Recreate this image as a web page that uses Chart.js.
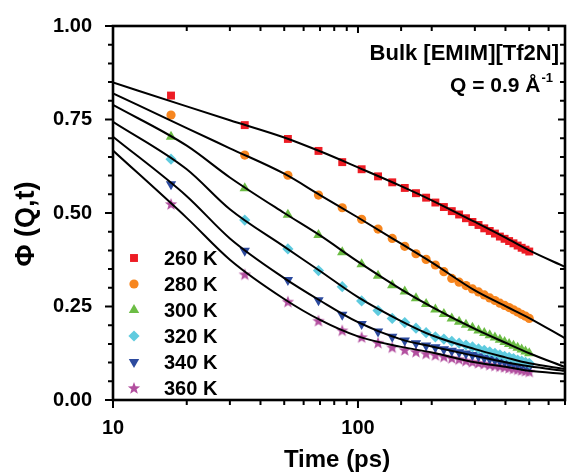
<html>
<head>
    <meta charset="utf-8">
    <title>Bulk [EMIM][Tf2N]</title>
    <script src="https://cdn.jsdelivr.net/npm/chart.js@4.4.1/dist/chart.umd.min.js"></script>
    <style>
        body { margin: 0; background: #fff; }
        #wrap { width: 572px; height: 474px; }
    </style>
</head>
<body>
    <div id="wrap">
        <canvas id="myChart" width="572" height="474"></canvas>
    </div>
    <script>
        // measured time points (ps)
        const times = [17.25, 34.5, 51.75, 69, 86.25, 103.5, 120.75, 138, 155.25, 172.5, 189.75, 207, 224.25, 241.5,
            258.75, 276, 293.25, 310.5, 327.75, 345, 362.25, 379.5, 396.75, 414, 431.25, 448.5, 465.75, 483, 500.25];

        const phi260 = [0.814, 0.735, 0.698, 0.666, 0.636, 0.617, 0.598, 0.582, 0.567, 0.553, 0.541, 0.528, 0.516, 0.505,
            0.496, 0.486, 0.476, 0.468, 0.459, 0.452, 0.445, 0.437, 0.431, 0.425, 0.419, 0.413, 0.407, 0.402, 0.397];
        const phi280 = [0.762, 0.655, 0.601, 0.548, 0.514, 0.483, 0.457, 0.432, 0.411, 0.391, 0.376, 0.361, 0.343, 0.325,
            0.315, 0.306, 0.297, 0.289, 0.281, 0.273, 0.266, 0.259, 0.253, 0.247, 0.241, 0.235, 0.229, 0.224, 0.218];
        const phi300 = [0.704, 0.566, 0.495, 0.441, 0.395, 0.363, 0.332, 0.307, 0.290, 0.272, 0.257, 0.242, 0.230, 0.218,
            0.209, 0.201, 0.193, 0.186, 0.179, 0.173, 0.167, 0.161, 0.155, 0.150, 0.145, 0.140, 0.135, 0.130, 0.125];
        const phi320 = [0.644, 0.481, 0.404, 0.346, 0.303, 0.265, 0.239, 0.218, 0.207, 0.192, 0.180, 0.169, 0.163, 0.157,
            0.152, 0.147, 0.142, 0.137, 0.133, 0.129, 0.125, 0.121, 0.117, 0.114, 0.111, 0.107, 0.104, 0.101, 0.098];
        const phi340 = [0.577, 0.399, 0.321, 0.267, 0.228, 0.203, 0.183, 0.169, 0.159, 0.152, 0.146, 0.141, 0.136, 0.132,
            0.128, 0.124, 0.120, 0.117, 0.113, 0.110, 0.107, 0.104, 0.102, 0.099, 0.097, 0.095, 0.093, 0.091, 0.089];
        const phi360 = [0.524, 0.336, 0.263, 0.212, 0.186, 0.168, 0.153, 0.141, 0.134, 0.129, 0.124, 0.120, 0.116, 0.112,
            0.109, 0.105, 0.102, 0.099, 0.097, 0.094, 0.092, 0.090, 0.088, 0.086, 0.084, 0.082, 0.080, 0.078, 0.076];

        // fit curves
        const fitTimes = [10, 20, 30, 50, 70, 100, 150, 200, 300, 400, 500, 700];
        const fit260 = [0.849, 0.785, 0.748, 0.702, 0.665, 0.622, 0.572, 0.534, 0.476, 0.434, 0.400, 0.356];
        const fit280 = [0.820, 0.727, 0.673, 0.605, 0.548, 0.488, 0.418, 0.368, 0.293, 0.251, 0.219, 0.165];
        const fit300 = [0.789, 0.680, 0.595, 0.500, 0.440, 0.370, 0.296, 0.249, 0.190, 0.153, 0.125, 0.088];
        const fit320 = [0.744, 0.617, 0.510, 0.410, 0.345, 0.275, 0.211, 0.173, 0.136, 0.114, 0.098, 0.083];
        const fit340 = [0.704, 0.545, 0.432, 0.326, 0.266, 0.208, 0.162, 0.143, 0.118, 0.101, 0.090, 0.078];
        const fit360 = [0.667, 0.487, 0.375, 0.270, 0.214, 0.170, 0.142, 0.127, 0.101, 0.089, 0.078, 0.070];

        const labels = ['260 K', '280 K', '300 K', '320 K', '340 K', '360 K'];
        const yTicks = ['0.00', '0.25', '0.50', '0.75', '1.00'];
        const xTicks = ['10', '100'];

        const COLORS = ['#ed1c24', '#f7861f', '#6cbd45', '#5fcbdf', '#2c4a9e', '#b24f9f'];

        Chart.defaults.font.family = "'Liberation Sans', Arial, sans-serif";
        Chart.defaults.font.weight = 'bold';
        Chart.defaults.color = '#000';

        function makeStar(color) {
            const c = document.createElement('canvas');
            c.width = 14; c.height = 14;
            const g = c.getContext('2d');
            g.fillStyle = color;
            g.beginPath();
            for (let i = 0; i < 10; i++) {
                const r = i % 2 === 0 ? 6.5 : 2.7;
                const a = -Math.PI / 2 + i * Math.PI / 5;
                const px = 7 + r * Math.cos(a), py = 7.5 + r * Math.sin(a);
                if (i === 0) g.moveTo(px, py); else g.lineTo(px, py);
            }
            g.closePath();
            g.fill();
            return c;
        }

        const markers = [
            { pointStyle: 'rect', radius: 5.6, rotation: 0 },
            { pointStyle: 'circle', radius: 4.6, rotation: 0 },
            { pointStyle: 'triangle', radius: 6, rotation: 0 },
            { pointStyle: 'rectRot', radius: 5.6, rotation: 0 },
            { pointStyle: 'triangle', radius: 6, rotation: 180 },
            { pointStyle: makeStar(COLORS[5]), radius: 7, rotation: 0 }
        ];

        const series = [phi260, phi280, phi300, phi320, phi340, phi360];
        const fits = [fit260, fit280, fit300, fit320, fit340, fit360];

        const datasets = [];
        fits.forEach((f, i) => {
            datasets.push({
                label: 'fit ' + labels[i],
                data: fitTimes.map((t, k) => ({ x: t, y: f[k] })),
                showLine: true,
                borderColor: '#000',
                borderWidth: 2,
                pointRadius: 0,
                cubicInterpolationMode: 'monotone',
                order: 0
            });
        });
        series.forEach((s, i) => {
            datasets.push({
                label: labels[i],
                data: times.map((t, k) => ({ x: t, y: s[k] })),
                showLine: false,
                backgroundColor: COLORS[i],
                borderColor: COLORS[i],
                borderWidth: 0,
                pointStyle: markers[i].pointStyle,
                pointRadius: markers[i].radius,
                pointRotation: markers[i].rotation,
                order: 1
            });
        });

        const FONT = "'Liberation Sans', Arial, sans-serif";

        const decor = {
            id: 'decor',
            afterDraw(chart) {
                const ctx = chart.ctx;
                const a = chart.chartArea;
                const xs = chart.scales.x, ys = chart.scales.y;
                ctx.save();
                ctx.strokeStyle = '#000';
                ctx.lineWidth = 2;
                ctx.lineCap = 'butt';
                ctx.beginPath();
                xs.ticks.forEach(t => {
                    const px = xs.getPixelForValue(t.value);
                    const major = xTicks.includes(String(t.value));
                    ctx.moveTo(px, a.bottom); ctx.lineTo(px, a.bottom + (major ? 8 : 5));
                    ctx.moveTo(px, a.top); ctx.lineTo(px, a.top + (major ? 7 : 5));
                });
                ys.ticks.forEach(t => {
                    const py = ys.getPixelForValue(t.value);
                    const major = yTicks.includes(t.value.toFixed(2));
                    ctx.moveTo(a.left, py); ctx.lineTo(a.left - (major ? 8 : 5), py);
                    ctx.moveTo(a.right, py); ctx.lineTo(a.right - (major ? 7 : 5), py);
                });
                ctx.stroke();
                ctx.lineWidth = 2.6;
                ctx.strokeRect(a.left, a.top, a.right - a.left, a.bottom - a.top);

                // legend
                ctx.font = 'bold 20px ' + FONT;
                ctx.textBaseline = 'middle';
                ctx.textAlign = 'left';
                labels.forEach((lab, i) => {
                    const y = 258 + i * 26;
                    ctx.fillStyle = COLORS[i];
                    Chart.helpers.drawPoint(ctx, {
                        pointStyle: markers[i].pointStyle,
                        radius: markers[i].radius,
                        rotation: markers[i].rotation,
                        borderWidth: 0
                    }, 134, y);
                    ctx.fillStyle = '#000';
                    ctx.fillText(lab, 164, y + 1);
                });

                // annotations
                ctx.textBaseline = 'alphabetic';
                ctx.textAlign = 'right';
                ctx.font = 'bold 22px ' + FONT;
                ctx.fillText('Bulk [EMIM][Tf2N]', 559, 60);
                ctx.font = 'bold 13px ' + FONT;
                const sup = '-1';
                const sw = ctx.measureText(sup).width;
                ctx.fillText(sup, 553, 82);
                ctx.font = 'bold 21px ' + FONT;
                ctx.fillText('Q = 0.9 Å', 553 - sw - 1, 92);

                // axis titles
                ctx.textAlign = 'center';
                ctx.font = 'bold 24px ' + FONT;
                ctx.fillText('Time (ps)', 337, 467);
                ctx.translate(34, 224);
                ctx.rotate(-Math.PI / 2);
                ctx.font = 'bold 27px ' + FONT;
                ctx.fillText('Φ (Q,t)', 0, 0);
                ctx.restore();
            }
        };

        const config = {
            type: 'scatter',
            data: { datasets: datasets },
            options: {
                responsive: false,
                animation: false,
                layout: { padding: { top: 26, right: 3, left: 0, bottom: 0 } },
                plugins: {
                    legend: { display: false },
                    tooltip: { enabled: false }
                },
                scales: {
                    x: {
                        type: 'logarithmic',
                        min: 10,
                        max: 700,
                        grid: { display: false, drawTicks: false },
                        border: { display: false },
                        afterFit: s => { s.height = 74; s.paddingLeft = 0; s.paddingRight = 0; },
                        ticks: {
                            autoSkip: false,
                            maxRotation: 0,
                            padding: 16,
                            font: { size: 20, weight: 'bold' },
                            callback: v => xTicks.includes(String(v)) ? String(v) : ''
                        }
                    },
                    y: {
                        min: 0,
                        max: 1,
                        grid: { display: false, drawTicks: false },
                        border: { display: false },
                        afterFit: s => { s.width = 113; s.paddingTop = 0; s.paddingBottom = 0; },
                        ticks: {
                            stepSize: 0.05,
                            autoSkip: false,
                            padding: 21,
                            font: { size: 20, weight: 'bold' },
                            callback: v => yTicks.includes(v.toFixed(2)) ? v.toFixed(2) : ''
                        }
                    }
                }
            },
            plugins: [decor]
        };

        const myChart = new Chart(document.getElementById('myChart'), config);
    </script>
</body>
</html>
